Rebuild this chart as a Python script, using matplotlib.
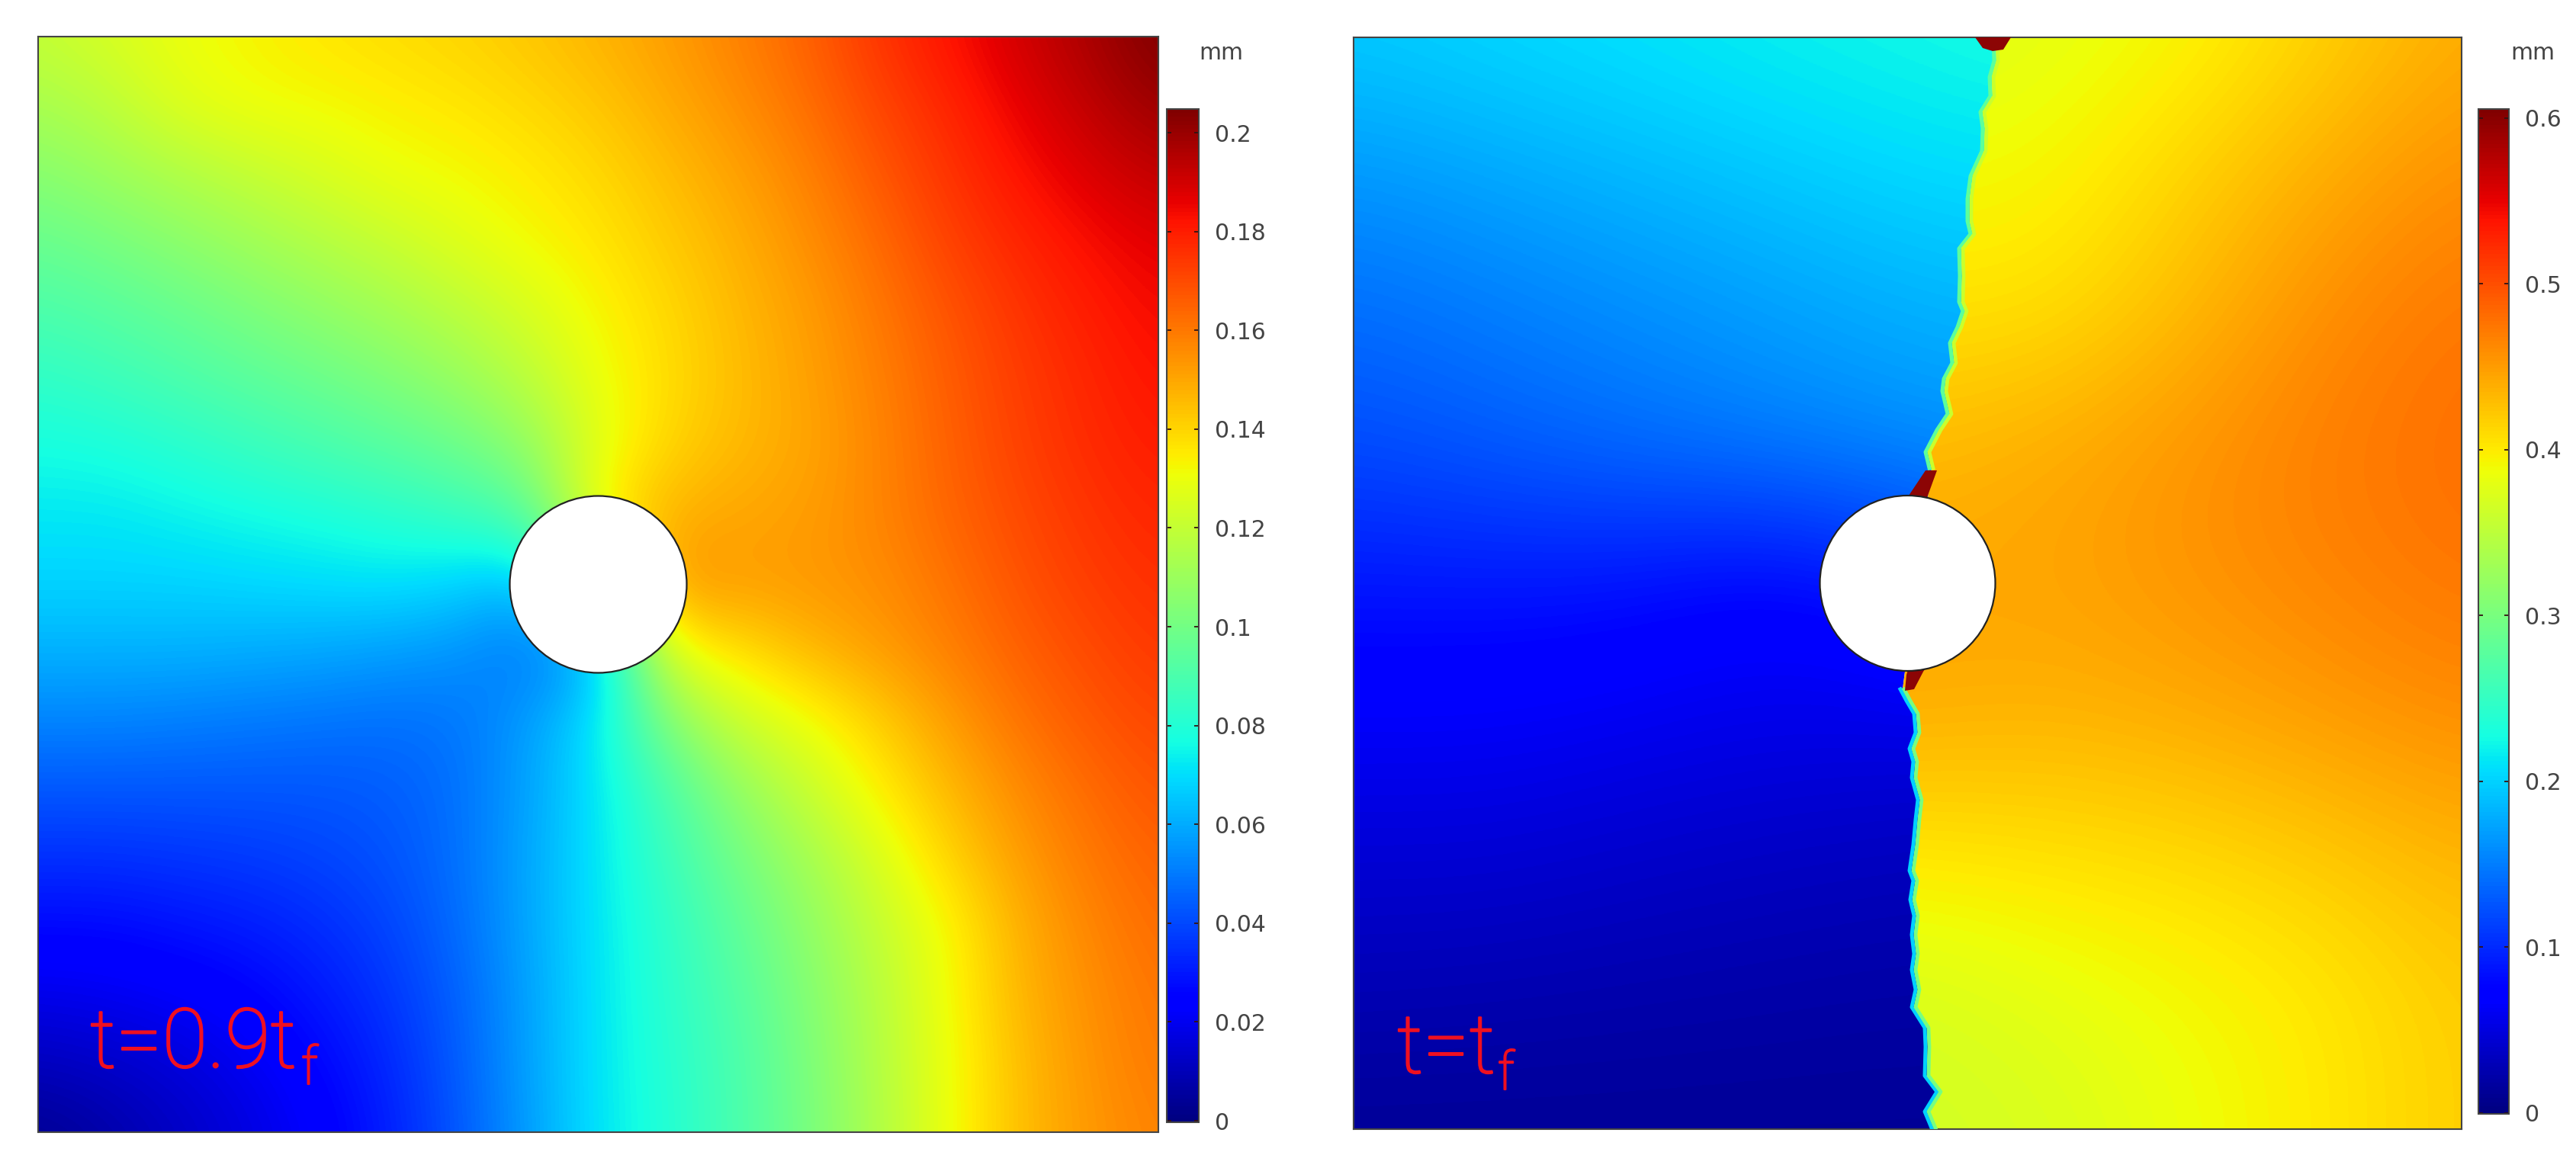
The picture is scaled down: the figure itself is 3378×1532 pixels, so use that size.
import matplotlib
matplotlib.use("Agg")
import matplotlib.pyplot as plt
import matplotlib.patheffects as pe
from matplotlib.patches import Circle, Polygon
import numpy as np

plt.rcParams['font.family'] = ['DejaVu Sans']

W, H = 3378, 1532

# left plot t=0.9tf, displacement in mm, rows top to bottom, 17x17 nodes
left_field = [
    [.120,.125,.130,.133,.136,.138,.140,.143,.147,.152,.158,.165,.175,.182,.190,.197,.205],
    [.113,.118,.127,.131,.132,.134,.136,.139,.143,.149,.155,.162,.171,.178,.186,.193,.200],
    [.105,.110,.115,.120,.125,.130,.132,.135,.139,.145,.151,.158,.167,.175,.182,.188,.193],
    [.097,.101,.106,.111,.116,.121,.127,.132,.136,.142,.148,.155,.163,.172,.178,.183,.187],
    [.090,.093,.097,.102,.107,.112,.118,.125,.133,.139,.146,.152,.160,.168,.175,.180,.184],
    [.083,.086,.090,.094,.098,.103,.109,.118,.130,.138,.145,.151,.158,.166,.173,.178,.182],
    [.077,.078,.081,.085,.089,.093,.098,.107,.128,.140,.146,.150,.157,.165,.172,.177,.180],
    [.072,.072,.074,.076,.078,.081,.085,.092,.135,.148,.150,.152,.157,.164,.170,.175,.178],
    [.068,.068,.068,.069,.070,.071,.068,.062,.100,.155,.152,.153,.155,.161,.168,.173,.176],
    [.061,.061,.061,.060,.059,.057,.055,.048,.060,.128,.137,.146,.152,.158,.165,.170,.174],
    [.052,.052,.051,.050,.049,.048,.049,.057,.072,.104,.122,.130,.141,.152,.161,.167,.171],
    [.043,.043,.043,.043,.043,.044,.048,.058,.072,.090,.108,.121,.134,.146,.156,.163,.168],
    [.035,.035,.036,.037,.039,.042,.048,.059,.072,.086,.100,.112,.125,.140,.152,.160,.165],
    [.027,.027,.029,.031,.034,.039,.047,.059,.072,.083,.095,.107,.120,.132,.148,.157,.163],
    [.019,.020,.022,.025,.030,.036,.045,.058,.072,.082,.092,.104,.117,.131,.147,.155,.161],
    [.011,.013,.016,.020,.026,.033,.044,.058,.072,.081,.090,.102,.116,.130,.145,.154,.160],
    [.003,.007,.012,.017,.023,.031,.043,.057,.072,.080,.090,.101,.115,.130,.145,.153,.158],
]

# right plot t=tf, one table each side of the crack, 9 rows
right_field_a = [
    [.197,.205,.212,.220,.225,.230],
    [.165,.175,.185,.195,.205,.210],
    [.140,.150,.160,.170,.180,.185],
    [.120,.130,.140,.150,.160,.165],
    [.088,.088,.085,.072,.090,.130],
    [.065,.065,.060,.056,.055,.055],
    [.045,.045,.040,.036,.033,.030],
    [.028,.026,.024,.022,.020,.020],
    [.012,.012,.012,.012,.012,.012],
]
right_field_b = [
    [.375,.375,.380,.390,.415,.440],
    [.390,.390,.390,.415,.440,.460],
    [.405,.405,.405,.430,.460,.475],
    [.430,.430,.440,.455,.470,.480],
    [.445,.445,.445,.455,.465,.475],
    [.440,.440,.435,.440,.450,.460],
    [.400,.400,.405,.410,.420,.435],
    [.370,.370,.380,.390,.400,.420],
    [.365,.365,.370,.385,.400,.420],
]

# crack path, px from the top left corner of the right plot
crack_x = [842,843,837,838,825,828,827,812,808,808,812,797,798,797,802,795,785,788,777,775,782,768,753,758,
           720,728,738,740,732,737,735,743,740,737,732,737,733,738,735,738,735,740,735,752,753,752,768,752,762]
crack_y = [0,31,52,77,98,119,149,182,212,241,258,277,313,347,359,380,401,427,448,464,494,515,544,565,
           855,870,887,912,933,950,971,1000,1026,1059,1093,1106,1131,1152,1177,1202,1223,1249,1272,1299,1324,1362,1383,1409,1433]
n_upper = 24

tip_top = [(815,0),(825,14),(838,18),(852,16),(862,0)]
tip_upper = [(750,568),(765,568),(753,601),(745,620),(715,620),(728,601)]
tip_lower = [(730,820),(755,820),(747,832),(735,855),(723,857),(725,836)]

left_ticks = [0,.02,.04,.06,.08,.1,.12,.14,.16,.18,.2]
left_ticklabels = ['0','0.02','0.04','0.06','0.08','0.1','0.12','0.14','0.16','0.18','0.2']
right_ticks = [0,.1,.2,.3,.4,.5,.6]
right_ticklabels = ['0','0.1','0.2','0.3','0.4','0.5','0.6']


def px_axes(fig, x0, y0, x1, y1):
    # y counted from the top of the image
    return fig.add_axes([x0 / W, 1 - y1 / H, (x1 - x0) / W, (y1 - y0) / H])


def field_image(ax, values, x0, x1, y0, y1, norm):
    values = np.array(values)
    dx = (x1 - x0) / (values.shape[1] - 1)
    dy = (y1 - y0) / (values.shape[0] - 1)
    return ax.imshow(values, cmap='jet', norm=norm, aspect='auto', interpolation='bicubic',
                     interpolation_stage='data',
                     extent=(x0 - dx / 2, x1 + dx / 2, y1 + dy / 2, y0 - dy / 2))


def finish_panel(ax, w, h, r):
    ax.set_xlim(0, w)
    ax.set_ylim(h, 0)
    ax.set_xticks([])
    ax.set_yticks([])
    for s in ax.spines.values():
        s.set_color('#444444')
        s.set_linewidth(1.5)
    ax.add_patch(Circle((w / 2, h / 2), r, fc='white', ec='#222222', lw=1.6, zorder=6))


def colorbar(fig, im, box, ticks, labels, mm_x):
    cax = px_axes(fig, *box)
    cb = fig.colorbar(im, cax=cax, ticks=ticks)
    cb.ax.set_yticklabels(labels)
    cb.ax.tick_params(axis='y', direction='in', length=4.5, width=1.3, left=True, right=True,
                      color='#331111', labelsize=21.5, labelcolor='#444444', pad=15)
    cb.outline.set_edgecolor('#444444')
    cb.outline.set_linewidth(1.5)
    fig.text(mm_x / W, 1 - 70 / H, 'mm', fontsize=21.5, color='#444444', va='center', ha='left')


def label(ax, x, y, main, sub, sub_dx):
    # light face is too thin on its own, thicken it a little
    thick = [pe.withStroke(linewidth=1.6, foreground='#f01020')]
    ax.text(x, y, main, color='#f01020', fontsize=78, family='Roboto', weight='light',
            va='baseline', zorder=8, path_effects=thick)
    ax.text(x + sub_dx, y + 22, sub, color='#f01020', fontsize=50, family='Roboto', weight='light',
            va='baseline', zorder=8, path_effects=thick)


fig = plt.figure(figsize=(W / 100, H / 100), dpi=100, facecolor='white')

# left panel
ax1 = px_axes(fig, 50, 48, 1519, 1485)
w1, h1 = 1469, 1437
norm1 = plt.Normalize(-0.0003, 0.2048)
im1 = field_image(ax1, left_field, 0, w1, 0, h1, norm1)
finish_panel(ax1, w1, h1, 116)
label(ax1, 68, 1352, 't=0.9t', 'f', 277)
colorbar(fig, im1, (1530, 143, 1572, 1472), left_ticks, left_ticklabels, 1572)

# right panel
ax2 = px_axes(fig, 1775, 49, 3228, 1481)
w2, h2 = 1453, 1432
norm2 = plt.Normalize(-0.0005, 0.6055)
step = w2 / 8
im_a = field_image(ax2, right_field_a, 0, 5 * step, 0, h2, norm2)
im_b = field_image(ax2, right_field_b, 3 * step, w2, 0, h2, norm2)

path = list(zip(crack_x, crack_y))
im_a.set_clip_path(Polygon(path + [(0, h2), (0, 0)], transform=ax2.transData))
im_b.set_clip_path(Polygon(path + [(w2, h2), (w2, 0)], transform=ax2.transData))

# crack band, colours come from the transition between both sides
cmap = plt.get_cmap('jet')
for xs, ys, v_a, v_b in [(crack_x[:n_upper], crack_y[:n_upper], .28, .36),
                         (crack_x[n_upper:], crack_y[n_upper:], .2, .3)]:
    ax2.plot(np.array(xs) - 3, ys, color=cmap(norm2(v_a)), lw=3.6, solid_joinstyle='round', zorder=3)
    ax2.plot(np.array(xs) + 2, ys, color=cmap(norm2(v_b)), lw=3.4, solid_joinstyle='round', zorder=3)

for tip in [tip_top, tip_upper, tip_lower]:
    ax2.add_patch(Polygon(tip, fc='#8c0505', ec='none', zorder=4))

finish_panel(ax2, w2, h2, 115)
label(ax2, 57, 1358, 't=t', 'f', 132)
colorbar(fig, im_a, (3250, 143, 3290, 1461), right_ticks, right_ticklabels, 3292)

fig.savefig('out.png', dpi=100)
